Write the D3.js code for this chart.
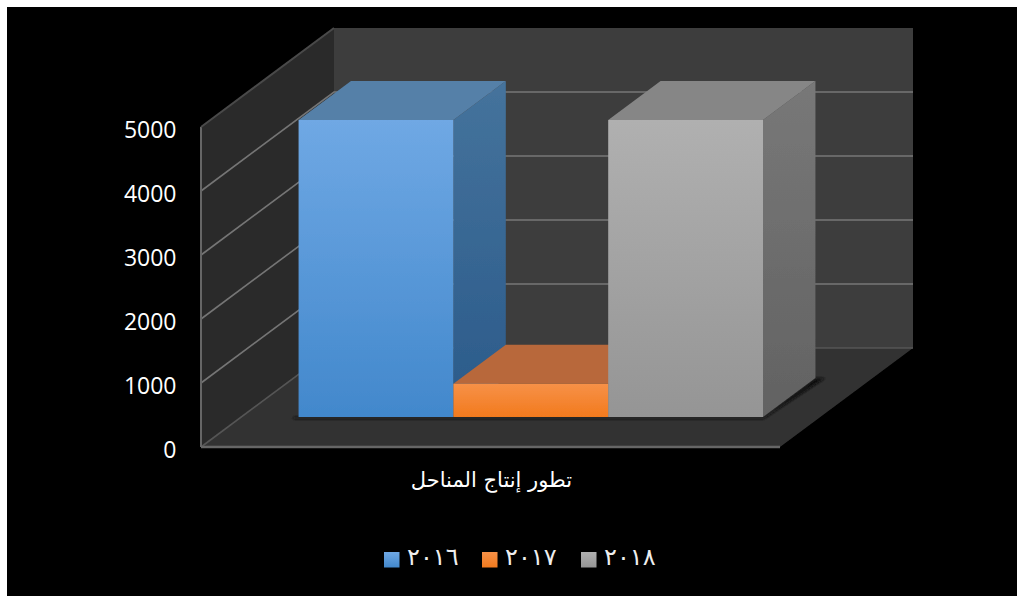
<!DOCTYPE html>
<html><head><meta charset="utf-8">
<script src="https://cdn.jsdelivr.net/npm/d3@7/dist/d3.min.js"></script>
<style>html,body{margin:0;padding:0;background:#fff}svg{display:block}</style></head>
<body><svg id="c" width="1017" height="596"></svg>
<script>
const years = ["٢٠١٦","٢٠١٧","٢٠١٨"];
const values = [4640, 520, 4640];
const frontColors = [["#6fa8e4","#4288cc"],["#f79147","#f27a1e"],["#b0b0b0","#959595"]];
const topColors = ["#5580a8","#b8683a","#868686"];
const sideTop = ["#45739c","#a85f30","#787878"];
const sideBottom = ["#2a5a8a","#a85f30","#626262"];
const ticks = [0,1000,2000,3000,4000,5000];
const categoryLabel = "تطور إنتاج المناحل";

const svg = d3.select("#c");
const defs = svg.append("defs");
svg.append("rect").attr("x",7).attr("y",7).attr("width",1010).attr("height",589).attr("fill","#000");

const y = d3.scaleLinear().domain([0,5000]).range([447,127]);
const x = d3.scaleBand().domain(years).range([0,579]).paddingInner(0).paddingOuter(0.37);
const DX=133, DY=99, X0=201;
const P=(px,v,d)=>[X0+px+d*DX, y(v)-d*DY];
defs.append("filter").attr("id","soft").append("feGaussianBlur").attr("stdDeviation",0.5);
defs.append("filter").attr("id","blur").append("feGaussianBlur").attr("stdDeviation",1.5);
const root = svg.append("g").attr("filter","url(#soft)");
const poly=(pts,fill)=>root.append("polygon").attr("points",pts.map(p=>p.join(",")).join(" ")).attr("fill",fill);

// walls
poly([P(0,0,0),P(0,5000,0),P(0,5000,1),P(0,0,1)],"#2b2b2b");
poly([P(0,0,1),P(0,5000,1),P(579,5000,1),P(579,0,1)],"#3d3d3d");
poly([P(0,0,0),P(0,0,1),P(579,0,1),P(579,0,0)],"#333333");

// grid
ticks.filter(t=>t<5000).forEach(t=>{
  root.append("polyline").attr("points",[P(0,t,0),P(0,t,1),P(579,t,1)].map(p=>p.join(",")).join(" "))
    .attr("fill","none").attr("stroke",t===0?"#555":"#757575").attr("stroke-width",1.6);
});
const edge=(a,b,c,w)=>root.append("line").attr("x1",a[0]).attr("y1",a[1]).attr("x2",b[0]).attr("y2",b[1]).attr("stroke",c).attr("stroke-width",w);
edge(P(0,0,0),P(0,5000,0),"#666",2);
edge(P(0,5000,0),P(0,5000,1),"#4a4a4a",2);
edge(P(0,0,0),P(579,0,0),"#666",2.5);

const D0=0.303, D1=0.697;
const xEnd=x(years[2])+x.bandwidth();

// shadow under the bars
poly([P(x(years[0])-4,0,D0-0.02),P(xEnd+3,0,D0-0.02),P(xEnd+10,0,D1),P(xEnd,0,D1),P(xEnd,0,D0),P(x(years[0])-4,0,D0)],"#0c0c0c").attr("filter","url(#blur)");

years.forEach((yr,i)=>{
  const g=defs.append("linearGradient").attr("id","g"+i).attr("x1",0).attr("y1",0).attr("x2",0).attr("y2",1);
  g.append("stop").attr("offset",0).attr("stop-color",frontColors[i][0]);
  g.append("stop").attr("offset",1).attr("stop-color",frontColors[i][1]);
  const s=defs.append("linearGradient").attr("id","s"+i).attr("x1",0).attr("y1",0).attr("x2",0).attr("y2",1);
  s.append("stop").attr("offset",0).attr("stop-color",sideTop[i]);
  s.append("stop").attr("offset",1).attr("stop-color",sideBottom[i]);
});

// bars, left to right: each one's front plane covers the previous bar's depth
[0,1,2].forEach(i=>{
  const l=x(years[i]), r=l+x.bandwidth(), v=values[i];
  poly([P(r,0,D0),P(r,v,D0),P(r,v,D1),P(r,0,D1)],`url(#s${i})`);
  poly([P(l,v,D0),P(r,v,D0),P(r,v,D1),P(l,v,D1)],topColors[i]);
  poly([P(l,0,D0),P(r,0,D0),P(r,v,D0),P(l,v,D0)],`url(#g${i})`);
});

// tick labels
svg.append("g").selectAll("text").data(ticks).join("text")
  .attr("x",176.5).attr("y",d=>y(d)+10.5).attr("text-anchor","end")
  .attr("font-family","'Open Sans',sans-serif").attr("font-size",23).attr("fill","#fff").text(d=>d);

svg.append("text").attr("x",491.5).attr("y",487).attr("text-anchor","middle").attr("direction","rtl")
  .attr("font-family","'DejaVu Sans',sans-serif").attr("font-size",21).attr("fill","#fff").text(categoryLabel);

// legend
const legX=[384,482,581], txtX=[407,505,604];
years.forEach((yr,i)=>{
  svg.append("rect").attr("x",legX[i]).attr("y",552).attr("width",15.5).attr("height",15.5).attr("fill",`url(#g${i})`);
  svg.append("text").attr("x",txtX[i]).attr("y",565).attr("font-family","'DejaVu Sans',serif").attr("font-size",24).attr("fill","#eee").attr("letter-spacing",6.5).text(yr);
});
</script></body></html>
